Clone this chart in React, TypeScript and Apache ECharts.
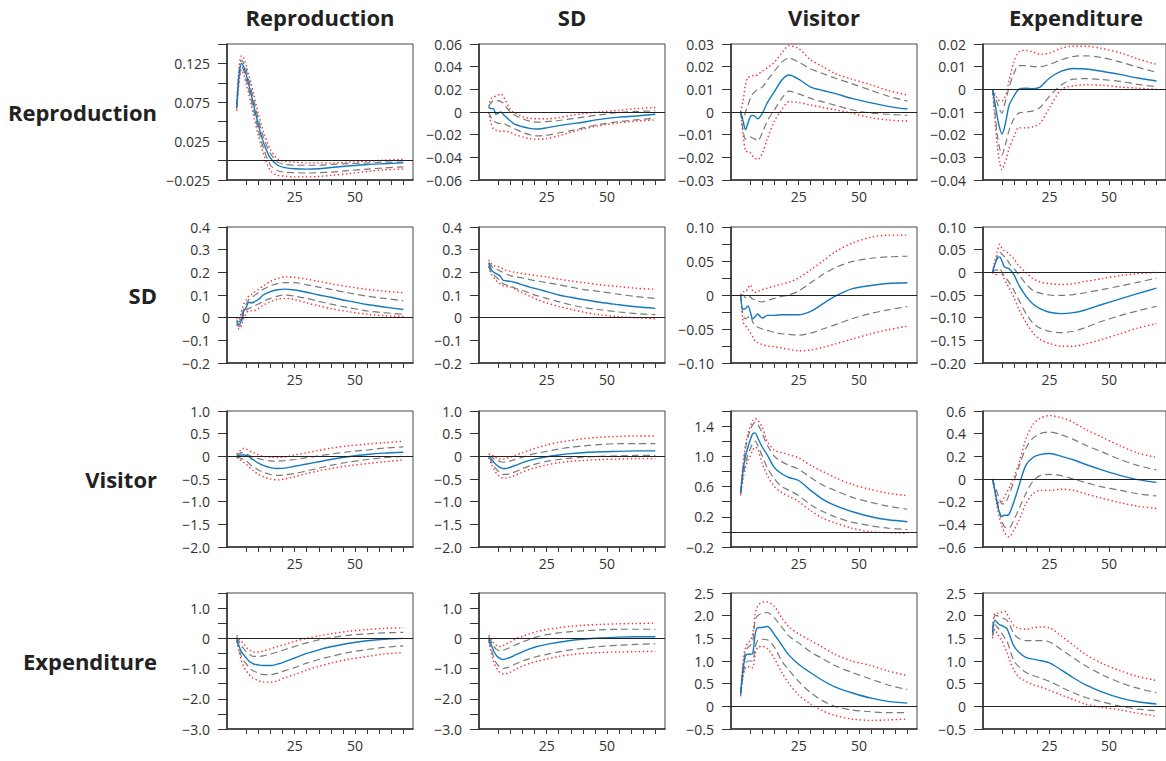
import React, { useEffect, useRef } from "react";
import * as echarts from "echarts";

const VARS = ["Reproduction", "SD", "Visitor", "Expenditure"];
const H = [1, 2, 3, 4, 5, 6, 7, 8, 10, 12, 15, 18, 21, 25, 30, 35, 40, 47, 55, 62, 70];
const X_TICKS = [5, 10, 15, 20, 25, 30, 35, 40, 45, 50, 55, 60, 65, 70];
const X_LABELS = [25, 50];

// ---- Row 1: Reproduction ----
const R1C1_med = [0.068,0.11,0.125,0.12,0.11,0.098,0.085,0.072,0.046,0.024,0.003,-0.006,-0.009,-0.0105,-0.011,-0.0105,-0.009,-0.007,-0.005,-0.004,-0.003];
const R1C1_hi68 = [0.07,0.115,0.129,0.125,0.116,0.104,0.092,0.079,0.053,0.031,0.009,-0.002,-0.005,-0.006,-0.006,-0.006,-0.005,-0.004,-0.003,-0.002,-0.002];
const R1C1_lo68 = [0.066,0.105,0.121,0.115,0.104,0.092,0.078,0.065,0.039,0.017,-0.006,-0.013,-0.015,-0.0155,-0.016,-0.0155,-0.015,-0.013,-0.011,-0.0095,-0.008];
const R1C1_hi90 = [0.072,0.12,0.135,0.131,0.122,0.11,0.099,0.086,0.06,0.038,0.014,0.002,-0.001,-0.002,-0.003,-0.003,-0.003,-0.002,-0.001,0.0005,0.0015];
const R1C1_lo90 = [0.064,0.1,0.117,0.11,0.098,0.086,0.072,0.058,0.032,0.01,-0.013,-0.019,-0.02,-0.021,-0.021,-0.0205,-0.019,-0.017,-0.014,-0.012,-0.011];

const R1C2_med = [0.0045,0.003,0.003,-0.002,-0.001,0.0,-0.002,-0.004,-0.008,-0.011,-0.013,-0.0145,-0.015,-0.014,-0.012,-0.0105,-0.009,-0.0065,-0.0045,-0.0035,-0.002];
const R1C2_hi68 = [0.005,0.008,0.01,0.01,0.01,0.009,0.008,0.005,0.0,-0.003,-0.006,-0.008,-0.009,-0.0085,-0.0075,-0.006,-0.0045,-0.0025,-0.0005,0.0005,0.001];
const R1C2_lo68 = [0.0,-0.005,-0.008,-0.009,-0.01,-0.01,-0.01,-0.011,-0.013,-0.015,-0.018,-0.02,-0.021,-0.0205,-0.0185,-0.0165,-0.014,-0.011,-0.0085,-0.007,-0.0055];
const R1C2_hi90 = [0.005,0.012,0.013,0.014,0.015,0.016,0.014,0.01,0.002,-0.001,-0.004,-0.0055,-0.006,-0.006,-0.005,-0.003,-0.0015,0.0,0.0015,0.003,0.004];
const R1C2_lo90 = [0.0,-0.01,-0.015,-0.016,-0.017,-0.017,-0.017,-0.017,-0.018,-0.02,-0.022,-0.0235,-0.024,-0.0235,-0.021,-0.018,-0.015,-0.012,-0.0095,-0.008,-0.007];

const R1C3_med = [0.0,-0.004,-0.0078,-0.005,-0.002,-0.0015,-0.002,-0.003,-0.0005,0.004,0.009,0.014,0.0163,0.0145,0.011,0.0095,0.0082,0.006,0.004,0.0025,0.0013];
const R1C3_hi68 = [0.0,-0.003,0.0,0.003,0.006,0.008,0.009,0.01,0.011,0.014,0.018,0.022,0.0238,0.022,0.019,0.017,0.015,0.0125,0.0095,0.007,0.0048];
const R1C3_lo68 = [0.0,-0.008,-0.012,-0.0115,-0.011,-0.0115,-0.012,-0.0128,-0.009,-0.004,0.001,0.006,0.0092,0.008,0.006,0.0045,0.003,0.001,-0.0005,-0.001,-0.0015];
const R1C3_hi90 = [0.0,0.005,0.012,0.0153,0.0155,0.016,0.016,0.0165,0.018,0.0195,0.022,0.026,0.0292,0.028,0.023,0.02,0.017,0.0145,0.012,0.0095,0.0075];
const R1C3_lo90 = [0.0,-0.01,-0.0172,-0.0175,-0.018,-0.0195,-0.0205,-0.021,-0.018,-0.012,-0.004,0.001,0.0045,0.0042,0.003,0.002,0.001,-0.0005,-0.0025,-0.0035,-0.004];

const R1C4_med = [0.0,-0.006,-0.012,-0.017,-0.0197,-0.017,-0.012,-0.007,-0.003,0.0,0.0005,0.0003,0.001,0.005,0.008,0.0092,0.009,0.008,0.0065,0.005,0.0037];
const R1C4_hi68 = [0.0,-0.003,-0.006,-0.009,-0.0105,-0.007,-0.003,0.001,0.007,0.0105,0.0105,0.01,0.01,0.011,0.013,0.0145,0.0148,0.014,0.012,0.0098,0.0075];
const R1C4_lo68 = [0.0,-0.01,-0.02,-0.026,-0.029,-0.026,-0.022,-0.018,-0.013,-0.0105,-0.01,-0.0095,-0.008,-0.003,0.002,0.0045,0.0047,0.0043,0.0035,0.0022,0.0012];
const R1C4_hi90 = [0.0,-0.002,-0.004,-0.005,-0.005,-0.004,-0.001,0.004,0.012,0.0165,0.0172,0.0165,0.0155,0.016,0.0182,0.019,0.019,0.018,0.016,0.0135,0.011];
const R1C4_lo90 = [0.0,-0.013,-0.025,-0.032,-0.0355,-0.033,-0.03,-0.026,-0.021,-0.017,-0.017,-0.0165,-0.015,-0.008,0.0,0.0015,0.002,0.0018,0.001,0.0005,0.0];

// ---- Row 2: SD ----
const R2C1_med = [-0.015,-0.032,-0.01,0.03,0.045,0.068,0.065,0.068,0.08,0.1,0.115,0.123,0.126,0.122,0.112,0.1,0.09,0.074,0.058,0.047,0.036];
const R2C1_hi68 = [-0.01,-0.02,0.01,0.04,0.06,0.08,0.088,0.095,0.11,0.125,0.14,0.15,0.155,0.155,0.145,0.135,0.125,0.11,0.095,0.085,0.075];
const R2C1_lo68 = [-0.025,-0.04,-0.02,0.02,0.035,0.04,0.045,0.05,0.06,0.072,0.085,0.095,0.1,0.095,0.085,0.072,0.06,0.045,0.03,0.022,0.015];
const R2C1_hi90 = [0.0,-0.01,0.03,0.06,0.08,0.095,0.1,0.11,0.125,0.14,0.16,0.173,0.18,0.178,0.17,0.16,0.15,0.137,0.125,0.117,0.11];
const R2C1_lo90 = [-0.03,-0.05,-0.035,0.0,0.02,0.03,0.03,0.03,0.04,0.055,0.07,0.082,0.085,0.08,0.065,0.052,0.04,0.027,0.015,0.009,0.005];

const R2C2_med = [0.24,0.215,0.2,0.195,0.19,0.18,0.165,0.163,0.16,0.155,0.145,0.135,0.127,0.115,0.1,0.09,0.08,0.068,0.057,0.048,0.041];
const R2C2_hi68 = [0.245,0.23,0.22,0.215,0.21,0.205,0.2,0.195,0.185,0.18,0.175,0.168,0.162,0.155,0.145,0.135,0.125,0.115,0.103,0.093,0.085];
const R2C2_lo68 = [0.23,0.2,0.19,0.18,0.17,0.16,0.15,0.145,0.14,0.13,0.12,0.108,0.097,0.085,0.07,0.057,0.045,0.035,0.025,0.018,0.013];
const R2C2_hi90 = [0.255,0.24,0.23,0.228,0.225,0.22,0.215,0.21,0.205,0.2,0.195,0.19,0.185,0.18,0.17,0.162,0.155,0.145,0.137,0.13,0.125];
const R2C2_lo90 = [0.225,0.195,0.18,0.165,0.155,0.148,0.14,0.138,0.135,0.125,0.11,0.095,0.08,0.065,0.05,0.037,0.025,0.013,0.004,0.0,-0.005];

const R2C3_med = [0.0,-0.021,-0.02,-0.016,-0.025,-0.035,-0.032,-0.028,-0.034,-0.03,-0.03,-0.029,-0.029,-0.029,-0.024,-0.013,-0.002,0.009,0.014,0.017,0.018];
const R2C3_hi68 = [0.0,0.0,-0.004,0.0,-0.003,-0.006,-0.007,-0.009,-0.01,-0.008,-0.005,-0.002,0.0,0.006,0.018,0.03,0.04,0.049,0.054,0.056,0.057];
const R2C3_lo68 = [0.0,-0.03,-0.035,-0.033,-0.03,-0.04,-0.045,-0.047,-0.05,-0.052,-0.055,-0.057,-0.058,-0.059,-0.056,-0.05,-0.044,-0.035,-0.027,-0.022,-0.017];
const R2C3_hi90 = [0.0,0.005,0.005,0.01,0.015,0.006,0.004,0.005,0.008,0.01,0.013,0.016,0.019,0.025,0.037,0.05,0.063,0.076,0.085,0.088,0.088];
const R2C3_lo90 = [0.0,-0.04,-0.045,-0.05,-0.055,-0.062,-0.068,-0.07,-0.073,-0.075,-0.076,-0.078,-0.08,-0.082,-0.081,-0.077,-0.072,-0.065,-0.057,-0.051,-0.046];

const R2C4_med = [0.0,0.018,0.03,0.034,0.025,0.012,0.01,0.008,-0.005,-0.027,-0.052,-0.07,-0.08,-0.088,-0.091,-0.089,-0.083,-0.071,-0.058,-0.047,-0.035];
const R2C4_hi68 = [0.0,0.02,0.035,0.045,0.04,0.035,0.03,0.02,0.008,-0.005,-0.025,-0.04,-0.046,-0.05,-0.051,-0.049,-0.045,-0.038,-0.03,-0.022,-0.013];
const R2C4_lo68 = [0.0,0.005,0.005,0.01,0.0,-0.008,-0.015,-0.022,-0.04,-0.06,-0.09,-0.112,-0.123,-0.13,-0.133,-0.13,-0.122,-0.108,-0.095,-0.085,-0.075];
const R2C4_hi90 = [0.0,0.025,0.045,0.062,0.052,0.048,0.045,0.04,0.03,0.015,0.0,-0.014,-0.021,-0.025,-0.027,-0.025,-0.02,-0.014,-0.007,-0.003,0.0];
const R2C4_lo90 = [0.0,-0.005,-0.005,0.0,-0.005,-0.015,-0.025,-0.035,-0.055,-0.08,-0.11,-0.133,-0.148,-0.157,-0.163,-0.163,-0.158,-0.148,-0.135,-0.123,-0.113];

// ---- Row 3: Visitor ----
const R3C1_med = [0.02,0.025,0.03,0.03,0.02,0.0,-0.05,-0.08,-0.15,-0.2,-0.25,-0.27,-0.26,-0.22,-0.17,-0.12,-0.07,-0.01,0.04,0.07,0.09];
const R3C1_hi68 = [0.02,0.05,0.08,0.07,0.05,0.03,0.0,-0.02,-0.05,-0.075,-0.1,-0.105,-0.095,-0.07,-0.03,0.01,0.05,0.1,0.14,0.18,0.21];
const R3C1_lo68 = [-0.02,-0.03,-0.05,-0.07,-0.1,-0.15,-0.2,-0.23,-0.3,-0.35,-0.4,-0.42,-0.41,-0.38,-0.32,-0.26,-0.2,-0.13,-0.07,-0.03,0.0];
const R3C1_hi90 = [0.05,0.1,0.15,0.18,0.16,0.13,0.1,0.08,0.03,0.0,-0.02,-0.025,-0.015,0.03,0.08,0.13,0.18,0.23,0.27,0.3,0.33];
const R3C1_lo90 = [-0.03,-0.06,-0.1,-0.14,-0.18,-0.23,-0.28,-0.32,-0.4,-0.45,-0.5,-0.52,-0.5,-0.45,-0.38,-0.32,-0.27,-0.21,-0.16,-0.12,-0.08];

const R3C2_med = [0.0,-0.05,-0.12,-0.18,-0.22,-0.25,-0.27,-0.27,-0.24,-0.2,-0.14,-0.09,-0.05,-0.01,0.03,0.06,0.08,0.1,0.11,0.12,0.12];
const R3C2_hi68 = [0.0,0.0,-0.05,-0.08,-0.1,-0.12,-0.13,-0.12,-0.1,-0.07,-0.02,0.03,0.07,0.11,0.16,0.2,0.23,0.26,0.28,0.28,0.28];
const R3C2_lo68 = [-0.02,-0.1,-0.2,-0.27,-0.33,-0.37,-0.4,-0.4,-0.38,-0.34,-0.27,-0.21,-0.16,-0.11,-0.07,-0.04,-0.02,0.0,0.01,0.02,0.02];
const R3C2_hi90 = [0.05,0.05,0.0,-0.03,-0.05,-0.06,-0.06,-0.05,-0.02,0.02,0.08,0.14,0.19,0.25,0.31,0.35,0.39,0.42,0.44,0.45,0.45];
const R3C2_lo90 = [-0.03,-0.15,-0.27,-0.36,-0.42,-0.46,-0.48,-0.48,-0.46,-0.42,-0.35,-0.29,-0.24,-0.19,-0.14,-0.11,-0.09,-0.07,-0.06,-0.05,-0.05];

const R3C3_med = [0.51,0.82,1.0,1.12,1.22,1.3,1.31,1.25,1.12,1.02,0.85,0.77,0.72,0.68,0.55,0.43,0.35,0.27,0.2,0.16,0.135];
const R3C3_hi68 = [0.52,0.85,1.1,1.25,1.35,1.42,1.45,1.43,1.3,1.15,1.0,0.93,0.88,0.83,0.72,0.62,0.55,0.46,0.39,0.34,0.3];
const R3C3_lo68 = [0.5,0.75,0.9,1.02,1.1,1.17,1.2,1.15,1.0,0.85,0.7,0.6,0.55,0.48,0.36,0.27,0.2,0.13,0.08,0.05,0.03];
const R3C3_hi90 = [0.53,0.9,1.15,1.3,1.4,1.47,1.5,1.48,1.38,1.2,1.08,1.05,1.02,0.98,0.88,0.8,0.72,0.63,0.56,0.51,0.48];
const R3C3_lo90 = [0.48,0.7,0.85,0.95,1.0,1.08,1.12,1.1,0.9,0.75,0.6,0.52,0.47,0.4,0.28,0.18,0.12,0.05,0.0,-0.01,-0.02];

const R3C4_med = [0.0,-0.1,-0.22,-0.3,-0.33,-0.32,-0.32,-0.31,-0.2,-0.07,0.12,0.19,0.215,0.225,0.2,0.17,0.13,0.08,0.03,-0.005,-0.03];
const R3C4_hi68 = [0.0,-0.06,-0.12,-0.18,-0.22,-0.22,-0.19,-0.14,-0.02,0.1,0.27,0.36,0.4,0.415,0.39,0.35,0.3,0.24,0.17,0.12,0.08];
const R3C4_lo68 = [0.0,-0.1,-0.2,-0.3,-0.38,-0.42,-0.43,-0.43,-0.36,-0.27,-0.13,-0.02,0.03,0.04,0.03,0.0,-0.03,-0.07,-0.1,-0.13,-0.15];
const R3C4_hi90 = [0.0,-0.1,-0.2,-0.21,-0.2,-0.16,-0.12,-0.08,0.02,0.13,0.35,0.48,0.535,0.56,0.54,0.5,0.44,0.37,0.29,0.23,0.19];
const R3C4_lo90 = [0.0,-0.12,-0.25,-0.35,-0.42,-0.47,-0.5,-0.51,-0.45,-0.37,-0.22,-0.13,-0.1,-0.1,-0.09,-0.1,-0.13,-0.17,-0.21,-0.24,-0.26];

// ---- Row 4: Expenditure ----
const R4C1_med = [0.0,-0.25,-0.45,-0.55,-0.65,-0.75,-0.8,-0.85,-0.88,-0.9,-0.9,-0.85,-0.77,-0.65,-0.5,-0.38,-0.28,-0.17,-0.08,-0.03,0.0];
const R4C1_hi68 = [0.05,-0.1,-0.25,-0.35,-0.45,-0.52,-0.57,-0.6,-0.6,-0.58,-0.52,-0.45,-0.37,-0.27,-0.15,-0.05,0.02,0.1,0.15,0.18,0.2];
const R4C1_lo68 = [-0.05,-0.35,-0.6,-0.75,-0.85,-0.95,-1.03,-1.08,-1.15,-1.2,-1.2,-1.15,-1.07,-0.97,-0.82,-0.7,-0.6,-0.47,-0.37,-0.3,-0.25];
const R4C1_hi90 = [0.1,0.0,-0.1,-0.2,-0.3,-0.37,-0.42,-0.45,-0.45,-0.42,-0.35,-0.27,-0.2,-0.1,0.0,0.08,0.15,0.23,0.29,0.33,0.35];
const R4C1_lo90 = [-0.1,-0.45,-0.75,-0.95,-1.08,-1.18,-1.27,-1.33,-1.4,-1.45,-1.45,-1.4,-1.3,-1.2,-1.05,-0.93,-0.82,-0.7,-0.6,-0.52,-0.47];

const R4C2_med = [0.0,-0.2,-0.4,-0.55,-0.63,-0.68,-0.7,-0.68,-0.63,-0.55,-0.45,-0.35,-0.27,-0.2,-0.13,-0.07,-0.03,0.01,0.04,0.05,0.05];
const R4C2_hi68 = [0.05,-0.1,-0.25,-0.35,-0.4,-0.42,-0.4,-0.37,-0.3,-0.22,-0.12,-0.03,0.05,0.12,0.18,0.22,0.25,0.28,0.3,0.3,0.3];
const R4C2_lo68 = [-0.05,-0.35,-0.6,-0.8,-0.9,-0.97,-1.0,-0.98,-0.93,-0.85,-0.75,-0.67,-0.6,-0.53,-0.45,-0.38,-0.33,-0.27,-0.23,-0.2,-0.18];
const R4C2_hi90 = [0.1,0.0,-0.15,-0.22,-0.27,-0.27,-0.24,-0.2,-0.12,-0.03,0.07,0.15,0.22,0.29,0.35,0.4,0.43,0.46,0.48,0.49,0.5];
const R4C2_lo90 = [-0.1,-0.45,-0.75,-0.95,-1.07,-1.15,-1.18,-1.17,-1.12,-1.03,-0.92,-0.83,-0.76,-0.69,-0.6,-0.54,-0.5,-0.47,-0.45,-0.44,-0.43];

const R4C3_med = [0.27,0.82,1.11,1.15,1.15,1.17,1.59,1.73,1.74,1.76,1.58,1.35,1.13,0.93,0.74,0.57,0.43,0.3,0.18,0.11,0.07];
const R4C3_hi68 = [0.3,0.9,1.2,1.3,1.35,1.45,1.9,2.0,2.05,2.07,1.95,1.75,1.55,1.4,1.2,1.05,0.9,0.75,0.6,0.47,0.37];
const R4C3_lo68 = [0.25,0.7,0.95,1.0,1.0,1.0,1.3,1.45,1.48,1.47,1.3,1.0,0.8,0.55,0.3,0.12,0.0,-0.08,-0.12,-0.14,-0.14];
const R4C3_hi90 = [0.3,1.0,1.3,1.4,1.45,1.6,2.05,2.2,2.3,2.3,2.2,1.95,1.75,1.6,1.45,1.3,1.15,1.0,0.9,0.78,0.68];
const R4C3_lo90 = [0.22,0.65,0.85,0.88,0.85,0.85,1.15,1.3,1.32,1.28,1.05,0.75,0.5,0.25,0.05,-0.1,-0.2,-0.28,-0.31,-0.3,-0.28];

const R4C4_med = [1.62,1.9,1.85,1.8,1.78,1.75,1.72,1.6,1.33,1.2,1.08,1.04,1.01,0.96,0.8,0.63,0.48,0.32,0.18,0.1,0.05];
const R4C4_hi68 = [1.7,2.0,2.0,1.97,1.95,1.93,1.9,1.82,1.6,1.5,1.45,1.45,1.45,1.42,1.25,1.07,0.9,0.7,0.52,0.4,0.3];
const R4C4_lo68 = [1.55,1.8,1.75,1.68,1.6,1.52,1.45,1.3,1.0,0.88,0.75,0.68,0.63,0.55,0.42,0.3,0.2,0.1,0.0,-0.06,-0.1];
const R4C4_hi90 = [1.75,2.05,2.05,2.06,2.08,2.1,2.05,1.95,1.78,1.72,1.7,1.73,1.75,1.73,1.55,1.35,1.15,0.95,0.78,0.66,0.57];
const R4C4_lo90 = [1.5,1.7,1.6,1.52,1.45,1.32,1.2,1.05,0.8,0.65,0.55,0.48,0.43,0.35,0.25,0.15,0.05,-0.02,-0.08,-0.15,-0.22];

// y-axis: [min, max, tickStep, decimals]
const Y_RANGES = [
  [-0.025, 0.15, 0.025, 3], [-0.06, 0.06, 0.02, 2], [-0.03, 0.03, 0.01, 2], [-0.04, 0.02, 0.01, 2],
  [-0.2, 0.4, 0.1, 1], [-0.2, 0.4, 0.1, 1], [-0.1, 0.1, 0.025, 2], [-0.2, 0.1, 0.05, 2],
  [-2, 1, 0.5, 1], [-2, 1, 0.5, 1], [-0.2, 1.6, 0.2, 1], [-0.6, 0.6, 0.2, 1],
  [-3, 1.5, 0.5, 1], [-3, 1.5, 0.5, 1], [-0.5, 2.5, 0.5, 1], [-0.5, 2.5, 0.5, 1],
];
const Y_LABELS = [
  [-0.025, 0.025, 0.075, 0.125], [-0.06, -0.04, -0.02, 0, 0.02, 0.04, 0.06], [-0.03, -0.02, -0.01, 0, 0.01, 0.02, 0.03], [-0.04, -0.03, -0.02, -0.01, 0, 0.01, 0.02],
  [-0.2, -0.1, 0, 0.1, 0.2, 0.3, 0.4], [-0.2, -0.1, 0, 0.1, 0.2, 0.3, 0.4], [-0.1, -0.05, 0, 0.05, 0.1], [-0.2, -0.15, -0.1, -0.05, 0, 0.05, 0.1],
  [-2, -1.5, -1, -0.5, 0, 0.5, 1], [-2, -1.5, -1, -0.5, 0, 0.5, 1], [-0.2, 0.2, 0.6, 1.0, 1.4], [-0.6, -0.4, -0.2, 0, 0.2, 0.4, 0.6],
  [-3, -2, -1, 0, 1], [-3, -2, -1, 0, 1], [-0.5, 0, 0.5, 1, 1.5, 2, 2.5], [-0.5, 0, 0.5, 1, 1.5, 2, 2.5],
];

const PANELS = [
  [R1C1_med, R1C1_lo68, R1C1_hi68, R1C1_lo90, R1C1_hi90],
  [R1C2_med, R1C2_lo68, R1C2_hi68, R1C2_lo90, R1C2_hi90],
  [R1C3_med, R1C3_lo68, R1C3_hi68, R1C3_lo90, R1C3_hi90],
  [R1C4_med, R1C4_lo68, R1C4_hi68, R1C4_lo90, R1C4_hi90],
  [R2C1_med, R2C1_lo68, R2C1_hi68, R2C1_lo90, R2C1_hi90],
  [R2C2_med, R2C2_lo68, R2C2_hi68, R2C2_lo90, R2C2_hi90],
  [R2C3_med, R2C3_lo68, R2C3_hi68, R2C3_lo90, R2C3_hi90],
  [R2C4_med, R2C4_lo68, R2C4_hi68, R2C4_lo90, R2C4_hi90],
  [R3C1_med, R3C1_lo68, R3C1_hi68, R3C1_lo90, R3C1_hi90],
  [R3C2_med, R3C2_lo68, R3C2_hi68, R3C2_lo90, R3C2_hi90],
  [R3C3_med, R3C3_lo68, R3C3_hi68, R3C3_lo90, R3C3_hi90],
  [R3C4_med, R3C4_lo68, R3C4_hi68, R3C4_lo90, R3C4_hi90],
  [R4C1_med, R4C1_lo68, R4C1_hi68, R4C1_lo90, R4C1_hi90],
  [R4C2_med, R4C2_lo68, R4C2_hi68, R4C2_lo90, R4C2_hi90],
  [R4C3_med, R4C3_lo68, R4C3_hi68, R4C3_lo90, R4C3_hi90],
  [R4C4_med, R4C4_lo68, R4C4_hi68, R4C4_lo90, R4C4_hi90],
];

const GX = [227, 479, 731, 983];
const GY = [44, 227, 411, 593];
const GW = 186;
const GH = 136;
const FONT = "'Open Sans', 'Noto Sans', sans-serif";
const BLUE = "#1479bd";
const GRAY = "#7a7a7a";
const RED = "#ff2a2a";
const AXIS = "#333333";

function fmt(v: number, dec: number) {
  if (Math.abs(v) < 1e-9) return "0";
  const s = Math.abs(v).toFixed(dec);
  return (v < 0 ? "\u2212" : "") + s;
}

function buildOption() {
  const grid: any[] = [];
  const xAxis: any[] = [];
  const yAxis: any[] = [];
  const series: any[] = [];
  const graphic: any[] = [];

  PANELS.forEach((p, i) => {
    const r = Math.floor(i / 4);
    const c = i % 4;
    const [ymin, ymax, ystep, dec] = Y_RANGES[i];
    const ticks: number[] = [];
    const n = Math.round((ymax - ymin) / ystep);
    for (let k = 0; k <= n; k++) ticks.push(+(ymin + k * ystep).toFixed(6));

    grid.push({
      left: GX[c], top: GY[r], width: GW, height: GH,
      show: true, borderColor: "#444", borderWidth: 1, backgroundColor: "transparent",
    });
    xAxis.push({
      type: "value", gridIndex: i, min: -3, max: 74,
      axisLine: { show: true, onZero: false, lineStyle: { color: AXIS, width: 1.6 } },
      axisTick: { show: true, customValues: X_TICKS, length: 5, lineStyle: { color: AXIS, width: 1 } },
      axisLabel: { show: true, customValues: X_LABELS, fontSize: 14, color: "#333", margin: 9, fontFamily: FONT },
      splitLine: { show: false },
    });
    yAxis.push({
      type: "value", gridIndex: i, min: ymin, max: ymax,
      axisLine: { show: true, onZero: false, lineStyle: { color: AXIS, width: 1.6 } },
      axisTick: { show: true, customValues: ticks, length: 9, lineStyle: { color: AXIS, width: 1 } },
      axisLabel: {
        show: true, customValues: Y_LABELS[i], fontSize: 14, color: "#333", margin: 17, fontFamily: FONT,
        formatter: (v: number) => fmt(v, dec as number),
      },
      splitLine: { show: false },
    });

    const mk = (arr: number[], style: any, z: number) => ({
      type: "line", xAxisIndex: i, yAxisIndex: i, symbol: "none", smooth: 0.3, silent: true, z,
      data: H.map((h, k) => [h, arr[k]]), lineStyle: style,
    });
    const red = { color: RED, width: 1.4, type: [1.4, 2.6] };
    const gray = { color: GRAY, width: 1.2, type: [7, 4] };
    const s0: any = mk(p[3], red, 2);
    s0.markLine = {
      silent: true, symbol: ["none", "none"], label: { show: false },
      lineStyle: { color: "#222", width: 1, type: "solid" }, data: [{ yAxis: 0 }],
    };
    series.push(s0);
    series.push(mk(p[4], red, 2));
    series.push(mk(p[1], gray, 3));
    series.push(mk(p[2], gray, 3));
    series.push(mk(p[0], { color: BLUE, width: 1.4 }, 4));
  });

  VARS.forEach((name, c) => {
    graphic.push({
      type: "text", x: GX[c] + GW / 2, y: 17,
      style: { text: name, font: `bold 22px ${FONT}`, fill: "#222", textAlign: "center", textVerticalAlign: "middle" },
    });
  });
  VARS.forEach((name, r) => {
    graphic.push({
      type: "text", x: 157, y: GY[r] + GH / 2,
      style: { text: name, font: `bold 22px ${FONT}`, fill: "#222", textAlign: "right", textVerticalAlign: "middle" },
    });
  });

  return { animation: false, grid, xAxis, yAxis, series, graphic };
}

export default function App() {
  const ref = useRef<HTMLDivElement>(null);
  useEffect(() => {
    if (!ref.current) return;
    const chart = echarts.init(ref.current, null, { renderer: "svg" });
    chart.setOption(buildOption() as any);
    return () => chart.dispose();
  }, []);
  return (
    <div
      ref={ref}
      style={{ position: "absolute", left: 0, top: 0, width: 1166, height: 761, background: "#fff" }}
    />
  );
}
